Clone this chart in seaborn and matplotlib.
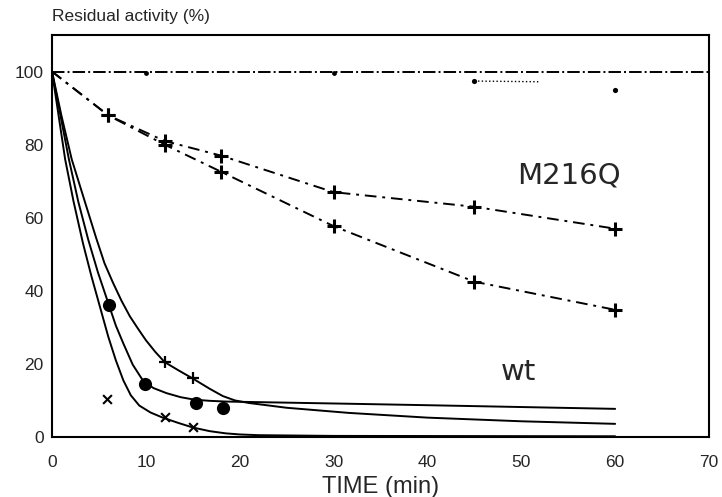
import numpy as np
import pandas as pd
import matplotlib
matplotlib.use("Agg")
import matplotlib.pyplot as plt
import seaborn as sns

# ---- data ----
# top reference line (100 %) and its points
ref_t = [0, 70]
ref_v = [100, 100]
ref_pts_t = [10, 30]
ref_pts_v = [99.5, 99.5]
dot_line_t = [45, 52]
dot_line_v = [97.4, 97.2]
dot_pts_t = [45, 60]
dot_pts_v = [97.4, 94.9]

# M216Q, two dash-dot lines with star markers
m_up_t = [0, 6, 12, 18, 30, 45, 60]
m_up_v = [100, 88, 81, 77, 67, 63, 57]
m_lo_t = [0, 6, 12, 18, 30, 45, 60]
m_lo_v = [100, 88, 80, 72.6, 57.7, 42.5, 34.8]

# wt, three fitted curves (traced) and their points
wtA_t = [0, 1.0, 2.1, 3.5, 4.7, 5.6, 6.5, 7.4, 8.3, 9.2, 10.0, 11.0, 12.0, 13.5, 15.0,
         16.8, 18.2, 19.5, 21, 25, 31.6, 40, 50, 60]
wtA_v = [100, 88, 76, 64.4, 54.5, 47.5, 42.2, 37.3, 33, 29.5, 26.5, 23.3, 20.5, 18.2, 16.0,
         13.2, 11.2, 10.0, 9.3, 8.0, 6.6, 5.3, 4.3, 3.6]
wtB_t = [0, 0.9, 1.8, 2.8, 3.85, 4.9, 6.0, 6.8, 7.6, 8.6, 9.7, 10.8, 12.2, 13.7, 15.2,
         16.8, 18.5, 25, 31.6, 40, 50, 60]
wtB_v = [100, 88, 76, 64.4, 54.1, 45, 36.6, 30.5, 25.6, 19.8, 15.4, 13.4, 12.0, 10.9, 10.2,
         9.9, 9.7, 9.4, 9.1, 8.7, 8.2, 7.7]
wtC_t = [0, 0.7, 1.4, 2.3, 3.3, 4.2, 5.1, 6.0, 6.8, 7.6, 8.4, 9.3, 10.5, 11.8, 13.4,
         15.0, 16.8, 18.5, 20, 22, 30, 60]
wtC_v = [100, 88, 76, 64.4, 53.0, 44, 35.7, 27.4, 21, 15.5, 11.4, 8.6, 6.7, 5.3, 3.9,
         2.6, 1.6, 1.0, 0.7, 0.5, 0.3, 0.2]

wtA_pts_t = [12, 15]
wtA_pts_v = [20.5, 16.2]
wtB_pts_t = [6.1, 9.9, 15.3, 18.2]
wtB_pts_v = [36.0, 14.6, 9.4, 8.0]
wtC_pts_t = [5.9, 12, 15]
wtC_pts_v = [10.5, 5.5, 2.6]

x_ticks = [0, 10, 20, 30, 40, 50, 60, 70]
y_ticks = [0, 20, 40, 60, 80, 100]

sns.set_style("white")
plt.rcParams['font.family'] = ['Liberation Sans', 'DejaVu Sans']

fig = plt.figure(figsize=(7.22, 4.97), dpi=100)
ax = fig.add_axes([52 / 722, 60 / 497, 657 / 722, 402 / 497])

k = dict(ax=ax, color='black', sort=False, estimator=None, legend=False)

# reference line at 100
sns.lineplot(x=ref_t, y=ref_v, linestyle='-.', linewidth=1.4, **k)
sns.lineplot(x=dot_line_t, y=dot_line_v, linestyle=':', linewidth=1.0, **k)
sns.scatterplot(x=ref_pts_t, y=ref_pts_v, ax=ax, color='black', s=12, linewidth=0)
sns.scatterplot(x=dot_pts_t, y=dot_pts_v, ax=ax, color='black', s=14, linewidth=0)

# M216Q
sns.lineplot(x=m_up_t, y=m_up_v, linestyle=(0, (6, 3, 1.5, 3)), linewidth=1.4, **k)
sns.lineplot(x=m_lo_t, y=m_lo_v, linestyle=(0, (6, 3, 1.5, 3)), linewidth=1.4, **k)
sns.scatterplot(x=m_up_t[1:], y=m_up_v[1:], ax=ax, color='black', marker='+', s=110, linewidth=2.2)
sns.scatterplot(x=m_lo_t[1:], y=m_lo_v[1:], ax=ax, color='black', marker='+', s=110, linewidth=2.2)

# wt
sns.lineplot(x=wtA_t, y=wtA_v, linewidth=1.4, **k)
sns.lineplot(x=wtB_t, y=wtB_v, linewidth=1.4, **k)
sns.lineplot(x=wtC_t, y=wtC_v, linewidth=1.4, **k)
sns.scatterplot(x=wtA_pts_t, y=wtA_pts_v, ax=ax, color='black', marker='+', s=70, linewidth=1.6)
sns.scatterplot(x=wtB_pts_t, y=wtB_pts_v, ax=ax, color='black', marker='o', s=90, linewidth=0)
sns.scatterplot(x=wtC_pts_t, y=wtC_pts_v, ax=ax, color='black', marker='x', s=40, linewidth=1.5)

ax.set_xlim(0, 70)
ax.set_ylim(0, 110)
ax.set_xticks(x_ticks)
ax.set_yticks(y_ticks)
ax.tick_params(direction='in', length=4, width=1, labelsize=12.5, pad=6)
ax.tick_params(axis='x', pad=13)
for s in ax.spines.values():
    s.set_color('black')
    s.set_linewidth(1.5)

ax.set_xlabel("TIME (min)", fontsize=17, labelpad=4)
ax.set_ylabel("")
fig.text(52 / 722, 1 - 17 / 497, "Residual activity (%)", fontsize=12.5, va='center', ha='left')

ax.text(49.6, 71.5, "M216Q", fontsize=21, va='center', ha='left', family=['DejaVu Sans'])
ax.text(47.8, 17.7, "wt", fontsize=21, va='center', ha='left', family=['DejaVu Sans'])

fig.savefig("out.png", dpi=100)
